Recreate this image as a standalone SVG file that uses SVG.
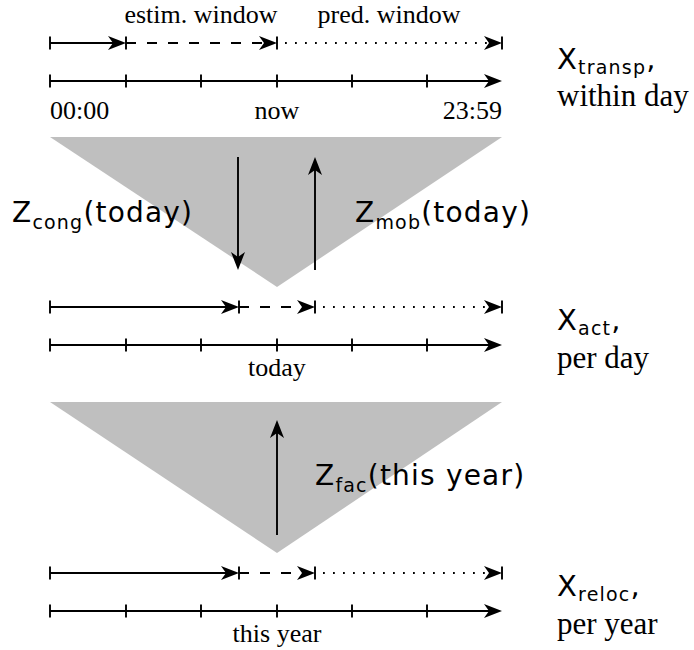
<svg xmlns="http://www.w3.org/2000/svg" width="694" height="650" viewBox="0 0 694 650">
<style>
.ln{stroke:#000;stroke-width:1.9;fill:none}
.dash{stroke-dasharray:10 11}
.dot{stroke-dasharray:1.8 8.2;stroke-dashoffset:-8}
.tri{fill:#bfbfbf;stroke:none}
.serif{font-family:"Liberation Serif","Times New Roman",serif;fill:#000}
.ax{font-size:26px}
.big{font-size:31px}
.math{font-family:"DejaVu Sans","Noto Sans",sans-serif;fill:#000;letter-spacing:1.2px}
.zm{font-size:28px}
.sub{font-size:19px}
</style>
<defs>
<marker id="ah" markerUnits="userSpaceOnUse" markerWidth="30" markerHeight="20" viewBox="-12 -10 30 20" refX="0" refY="0" orient="auto" overflow="visible">
<path d="M10,0 L-8,-7 L-3,0 L-8,7 Z" fill="#000"/>
</marker>
<path id="bar" d="M0,-6.5 V6.5" class="ln"/>
</defs>

<g id="triangle-day"><polygon class="tri" points="50,137 502,137 277,287"/></g>
<g id="triangle-year"><polygon class="tri" points="50,402 502,402 277,553"/></g>

<g id="timeline-transp">
<g id="transp-intervals">
<use href="#bar" x="50" y="43"/><use href="#bar" x="126" y="43"/><use href="#bar" x="277" y="43"/><use href="#bar" x="502" y="43"/>
<path class="ln" d="M50,43 H116" marker-end="url(#ah)"/>
<path class="ln dash" d="M126,43 H267" marker-end="url(#ah)"/>
<path class="ln dot" d="M277,43 H492" marker-end="url(#ah)"/>
</g>
<g id="transp-axis">
<path class="ln" d="M50,81 H492" marker-end="url(#ah)"/>
<use href="#bar" x="50" y="81"/><use href="#bar" x="126" y="81"/><use href="#bar" x="201" y="81"/><use href="#bar" x="277" y="81"/><use href="#bar" x="352" y="81"/><use href="#bar" x="427" y="81"/>
</g>
<text class="serif ax" x="201" y="23" text-anchor="middle">estim. window</text>
<text class="serif ax" x="389" y="23" text-anchor="middle">pred. window</text>
<text class="serif ax" x="50" y="119">00:00</text>
<text class="serif ax" x="277" y="119" text-anchor="middle">now</text>
<text class="serif ax" x="502" y="119" text-anchor="end">23:59</text>
</g>

<g id="label-transp">
<text class="math" x="557" y="69" font-size="29">X<tspan class="sub" dy="5">transp</tspan><tspan dy="-5">,</tspan></text>
<text class="serif big" x="557" y="106">within day</text>
</g>

<g id="timeline-act">
<g id="act-intervals">
<use href="#bar" x="50" y="307"/><use href="#bar" x="239" y="307"/><use href="#bar" x="315" y="307"/><use href="#bar" x="502" y="307"/>
<path class="ln" d="M50,307 H229" marker-end="url(#ah)"/>
<path class="ln dash" d="M239,307 H305" marker-end="url(#ah)"/>
<path class="ln dot" d="M315,307 H492" marker-end="url(#ah)"/>
</g>
<g id="act-axis">
<path class="ln" d="M50,345 H492" marker-end="url(#ah)"/>
<use href="#bar" x="50" y="345"/><use href="#bar" x="126" y="345"/><use href="#bar" x="201" y="345"/><use href="#bar" x="277" y="345"/><use href="#bar" x="352" y="345"/><use href="#bar" x="427" y="345"/>
</g>
<text class="serif ax" x="277" y="376" text-anchor="middle">today</text>
</g>

<g id="label-act">
<text class="math" x="557" y="330" font-size="29">X<tspan class="sub" dy="5">act</tspan><tspan dy="-5">,</tspan></text>
<text class="serif big" x="557" y="368">per day</text>
</g>

<g id="timeline-reloc">
<g id="reloc-intervals">
<use href="#bar" x="50" y="573"/><use href="#bar" x="239" y="573"/><use href="#bar" x="315" y="573"/><use href="#bar" x="502" y="573"/>
<path class="ln" d="M50,573 H229" marker-end="url(#ah)"/>
<path class="ln dash" d="M239,573 H305" marker-end="url(#ah)"/>
<path class="ln dot" d="M315,573 H492" marker-end="url(#ah)"/>
</g>
<g id="reloc-axis">
<path class="ln" d="M50,611 H492" marker-end="url(#ah)"/>
<use href="#bar" x="50" y="611"/><use href="#bar" x="126" y="611"/><use href="#bar" x="201" y="611"/><use href="#bar" x="277" y="611"/><use href="#bar" x="352" y="611"/><use href="#bar" x="427" y="611"/>
</g>
<text class="serif ax" x="277" y="642" text-anchor="middle">this year</text>
</g>

<g id="label-reloc">
<text class="math" x="557" y="596" font-size="29">X<tspan class="sub" dy="5">reloc</tspan><tspan dy="-5">,</tspan></text>
<text class="serif big" x="557" y="634">per year</text>
</g>

<g id="connectors">
<path class="ln" d="M238,157 V260" marker-end="url(#ah)"/>
<path class="ln" d="M315,270 V167" marker-end="url(#ah)"/>
<path class="ln" d="M277,535 V430" marker-end="url(#ah)"/>
</g>

<g id="label-cong"><text class="math zm" x="12" y="222">Z<tspan class="sub" dy="7">cong</tspan><tspan dy="-7">(today)</tspan></text></g>
<g id="label-mob"><text class="math zm" x="355" y="222">Z<tspan class="sub" dy="7">mob</tspan><tspan dy="-7">(today)</tspan></text></g>
<g id="label-fac"><text class="math zm" x="315" y="485">Z<tspan class="sub" dy="7">fac</tspan><tspan dy="-7">(this year)</tspan></text></g>
</svg>
